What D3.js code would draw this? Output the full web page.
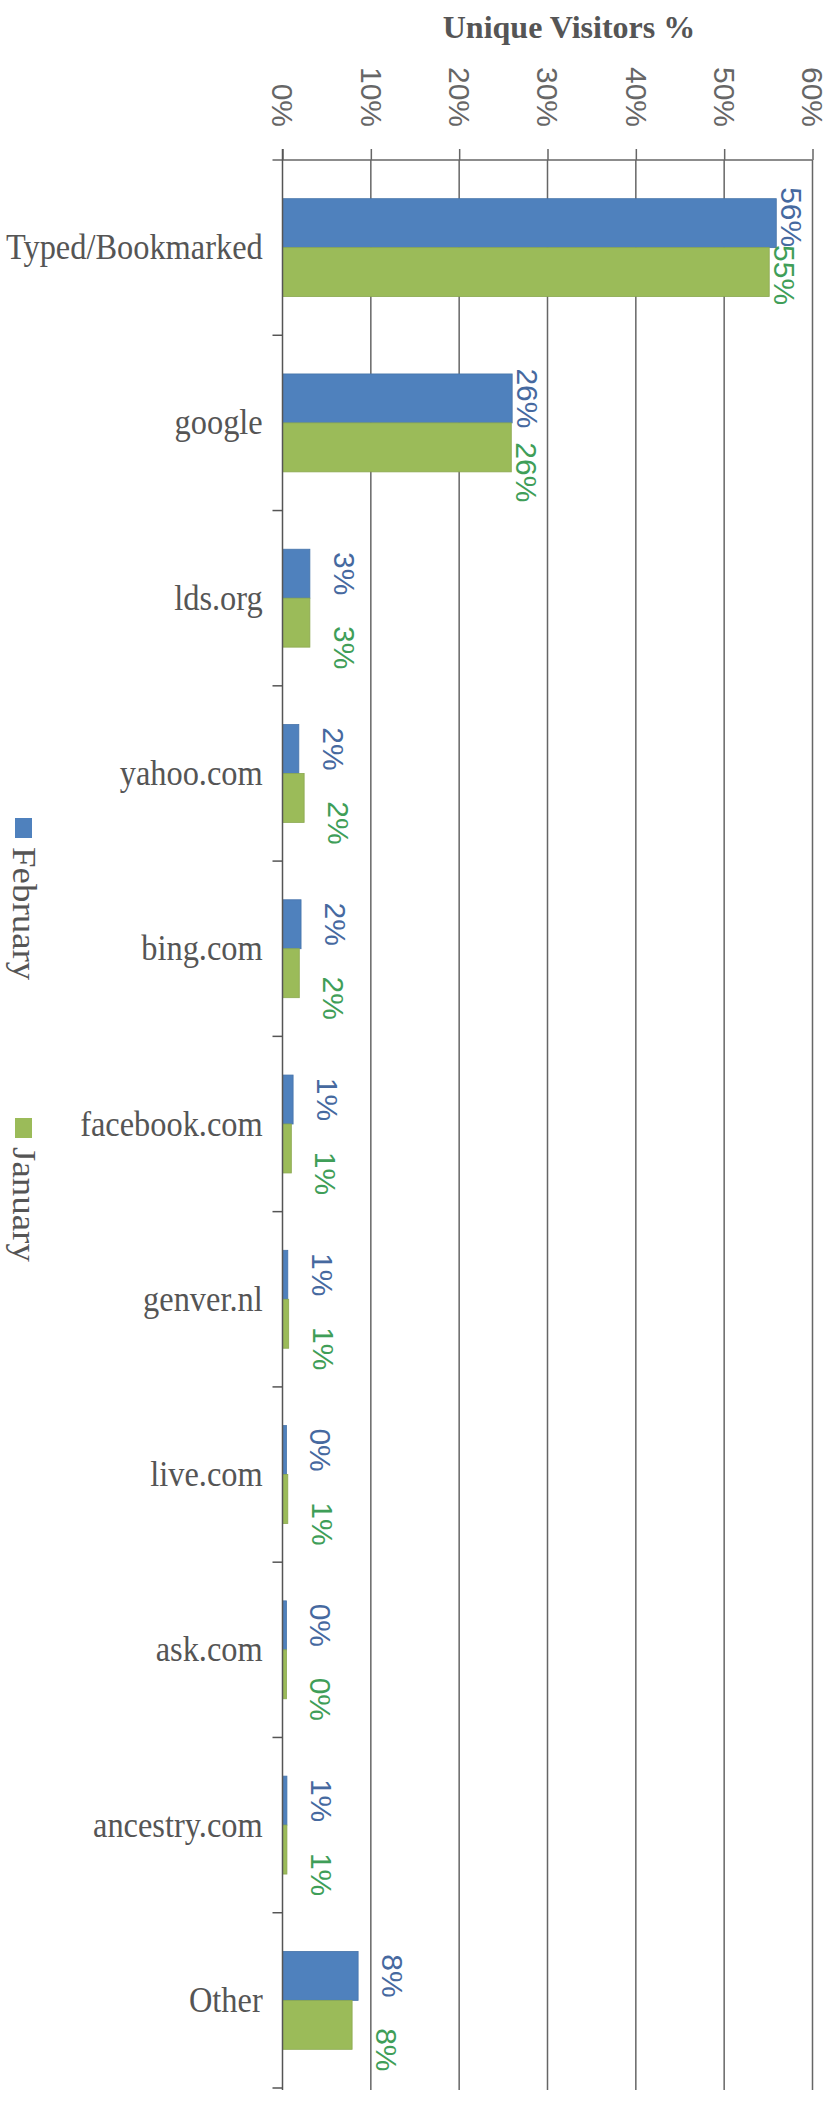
<!DOCTYPE html>
<html>
<head>
<meta charset="utf-8">
<script src="https://cdn.jsdelivr.net/npm/d3@7"></script>
<style>
  html, body { margin: 0; padding: 0; background: #fff; }
  svg { display: block; }
</style>
</head>
<body>
<svg id="chart" width="834" height="2102"></svg>
<script>
// ---- data ----
const categories = ["Typed/Bookmarked", "google", "lds.org", "yahoo.com", "bing.com",
  "facebook.com", "genver.nl", "live.com", "ask.com", "ancestry.com", "Other"];
const seriesNames = ["February", "January"];
const february = [55.9, 26.0, 3.1, 1.85, 2.1, 1.2, 0.6, 0.45, 0.45, 0.5, 8.56];
const january  = [55.1, 25.9, 3.1, 2.45, 1.9, 1.0, 0.7, 0.6, 0.45, 0.5, 7.88];
const februaryLabels = ["56%", "26%", "3%", "2%", "2%", "1%", "1%", "0%", "0%", "1%", "8%"];
const januaryLabels  = ["55%", "26%", "3%", "2%", "2%", "1%", "1%", "1%", "0%", "1%", "8%"];
const tickValues = [0, 10, 20, 30, 40, 50, 60];
const tickLabels = ["0%", "10%", "20%", "30%", "40%", "50%", "60%"];
const axisTitle = "Unique Visitors %";

// ---- layout ----
const colors = { February: "#4F81BD", January: "#9BBB59" };
const labelColors = { February: "#46699f", January: "#3f9e58" };
const plotTop = 160, plotBottom = 2088, plotLeft = 282.5, plotRight = 812.5;
const gridColor = "#666";
const sans = "'Liberation Sans', Arial, sans-serif";
const serif = "'Liberation Serif', 'Times New Roman', serif";

const svg = d3.select("#chart");

const x = d3.scaleLinear().domain([0, 60]).range([plotLeft, plotRight]);
const y = d3.scaleBand().domain(categories).range([plotTop, plotBottom]).padding(0);
const inner = d3.scaleBand().domain(seriesNames).range([0, y.bandwidth()])
  .paddingInner(0).paddingOuter(0.79);

// title
svg.append("text")
  .attr("x", 569).attr("y", 38)
  .attr("text-anchor", "middle")
  .attr("font-family", serif)
  .attr("font-weight", "bold")
  .attr("font-size", 32)
  .attr("fill", "#555")
  .text(axisTitle);

// gridlines
svg.append("g").selectAll("line").data(tickValues.slice(1)).join("line")
  .attr("x1", d => x(d)).attr("x2", d => x(d))
  .attr("y1", plotTop).attr("y2", plotBottom + 2)
  .attr("stroke", gridColor).attr("stroke-width", 1.5);

// top value axis
const xAxis = d3.axisTop(x).tickValues(tickValues)
  .tickFormat((d, i) => tickLabels[i]).tickSizeInner(11).tickSizeOuter(0);
const gx = svg.append("g").attr("transform", `translate(0,${plotTop})`).call(xAxis);
gx.select(".domain").remove();
gx.selectAll(".tick line").attr("stroke", gridColor).attr("stroke-width", 1.5);
gx.selectAll(".tick text")
  .attr("transform", "rotate(90)")
  .attr("x", -33).attr("y", 0).attr("dy", "0.36em")
  .attr("text-anchor", "end")
  .attr("font-family", sans)
  .attr("font-size", 30)
  .attr("fill", "#666");
svg.append("line")
  .attr("x1", plotLeft - 10).attr("x2", x(60))
  .attr("y1", plotTop).attr("y2", plotTop)
  .attr("stroke", gridColor).attr("stroke-width", 1.5);

// bars
const rows = categories.map((c, i) => ({ c, i }));
const groups = svg.append("g").selectAll("g").data(rows).join("g")
  .attr("transform", d => `translate(0,${y(d.c)})`);
const seriesData = { February: february, January: january };
const seriesLabels = { February: februaryLabels, January: januaryLabels };
seriesNames.forEach(s => {
  groups.append("rect")
    .attr("x", x(0))
    .attr("y", d => inner(s))
    .attr("width", d => x(seriesData[s][d.i]) - x(0))
    .attr("height", inner.bandwidth())
    .attr("fill", colors[s])
    .attr("stroke", d3.color(colors[s]).darker(0.3))
    .attr("stroke-width", 0.8);
  groups.append("text")
    .attr("transform", d => {
      const v = seriesData[s][d.i];
      const gap = v > 20 ? 5 : 24;
      let shift = 0;
      if (s === "January") shift = v > 40 ? 3 : 25;
      if (s === "February" && v > 40) shift = -6;
      return `translate(${x(v) + gap},${inner(s) + inner.bandwidth() / 2 + shift}) rotate(90)`;
    })
    .attr("text-anchor", "middle")
    .attr("font-family", sans)
    .attr("font-size", 30)
    .attr("fill", labelColors[s])
    .text(d => seriesLabels[s][d.i]);
});

// category axis
const yAxis = d3.axisLeft(y).tickSize(0).tickPadding(0);
const gy = svg.append("g").attr("transform", `translate(${plotLeft},0)`).call(yAxis);
gy.select(".domain").remove();
gy.selectAll(".tick text")
  .attr("x", -22)
  .attr("dy", "0.32em")
  .attr("transform", "scale(0.9,1)")
  .attr("font-family", serif)
  .attr("font-size", 36)
  .attr("fill", "#555");
svg.append("line")
  .attr("x1", plotLeft).attr("x2", plotLeft)
  .attr("y1", plotTop - 11).attr("y2", plotBottom + 2)
  .attr("stroke", "#555").attr("stroke-width", 1.5);
const boundaries = categories.map(c => y(c)).slice(1).concat([plotBottom]);
svg.append("g").selectAll("line").data(boundaries).join("line")
  .attr("x1", plotLeft - 10).attr("x2", plotLeft)
  .attr("y1", d => d).attr("y2", d => d)
  .attr("stroke", "#555").attr("stroke-width", 1.5);

// legend
const legendPos = { February: 818, January: 1118 };
seriesNames.forEach(s => {
  svg.append("rect")
    .attr("x", 15).attr("y", legendPos[s])
    .attr("width", 17).attr("height", 20)
    .attr("fill", colors[s]);
  svg.append("text")
    .attr("transform", `translate(13,${legendPos[s] + 29}) scale(1,1.12) rotate(90)`)
    .attr("text-anchor", "start")
    .attr("font-family", serif)
    .attr("font-size", 33)
    .attr("fill", "#555")
    .text(s);
});
</script>
</body>
</html>
